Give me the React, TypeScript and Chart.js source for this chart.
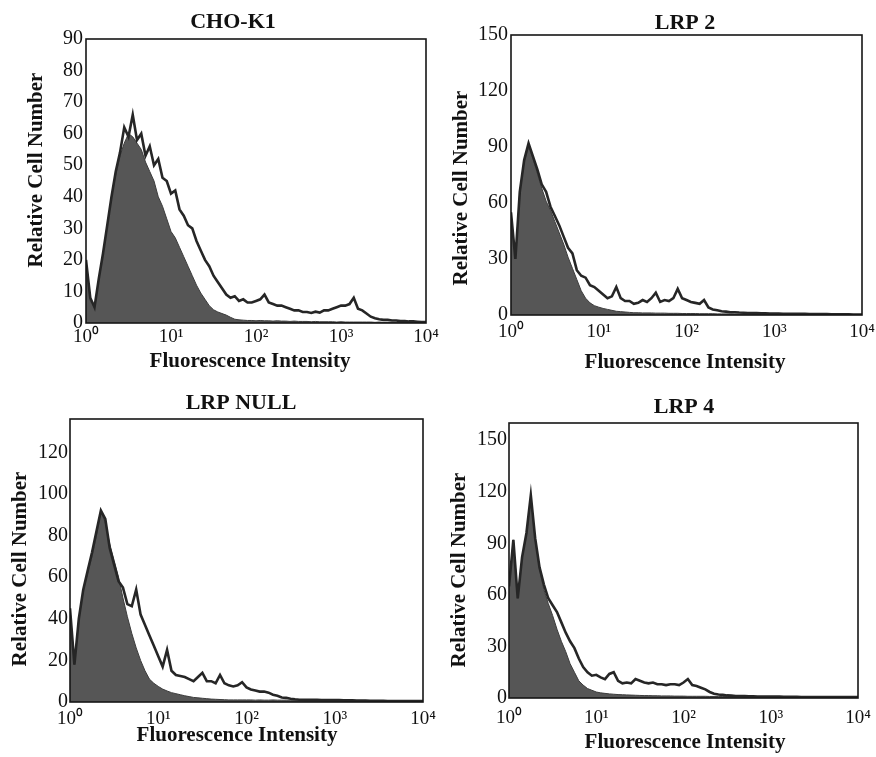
import React, { useEffect, useRef } from "react";
import { Chart, registerables } from "chart.js";

Chart.register(...registerables);

// x positions: log10 of fluorescence intensity (decades 10^0 .. 10^4)
const logIntensity = [
  0, 0.05, 0.1, 0.15, 0.2, 0.25, 0.3, 0.35, 0.4, 0.45,
  0.5, 0.55, 0.6, 0.65, 0.7, 0.75, 0.8, 0.85, 0.9, 0.95,
  1, 1.05, 1.1, 1.15, 1.2, 1.25, 1.3, 1.35, 1.4, 1.45,
  1.5, 1.55, 1.6, 1.65, 1.7, 1.75, 1.8, 1.85, 1.9, 1.95,
  2, 2.05, 2.1, 2.15, 2.2, 2.25, 2.3, 2.35, 2.4, 2.45,
  2.5, 2.55, 2.6, 2.65, 2.7, 2.75, 2.8, 2.85, 2.9, 2.95,
  3, 3.05, 3.1, 3.15, 3.2, 3.25, 3.3, 3.35, 3.4, 3.45,
  3.5, 3.55, 3.6, 3.65, 3.7, 3.75, 3.8, 3.85, 3.9, 3.95,
  4,
];

const decadeLabels = ["10\u2070", "10\u00B9", "10\u00B2", "10\u00B3", "10\u2074"];
const xAxisTitle = "Fluorescence Intensity";
const yAxisTitle = "Relative Cell Number";

// CHO-K1
const choControl = [
  20, 7, 5, 14, 22, 31, 40, 47, 53, 57,
  60, 59, 57, 55, 51, 48, 45, 40, 37, 33,
  29, 27, 24, 21, 18, 15, 12, 9.5, 7.5, 5.5,
  4.2, 3.5, 3, 2.5, 1.8, 1.2, 1, 0.9, 0.8, 0.8,
  0.7, 0.8, 0.7, 0.7, 0.6, 0.7, 0.6, 0.6, 0.5, 0.6,
  0.5, 0.5, 0.5, 0.4, 0.5, 0.4, 0.4, 0.4, 0.4, 0.3,
  0.4, 0.3, 0.3, 0.3, 0.3, 0.3, 0.3, 0.3, 0.2, 0.3,
  0.2, 0.2, 0.2, 0.2, 0.2, 0.2, 0.2, 0.2, 0.2, 0.2,
  0.2,
];
const choTest = [
  20, 8, 5, 14, 22, 31, 40, 48, 54, 62,
  59, 66, 58, 60, 53, 56, 50, 52, 46, 45,
  41, 42, 36, 34, 31, 30, 26, 23, 20, 18,
  15, 13, 11, 9, 8, 8.5, 7, 7.5, 6.5, 6.5,
  7, 7.5, 9, 6.5, 6, 5.5, 5.5, 5, 4.5, 4,
  4, 3.5, 3.5, 3.2, 3.6, 3.3, 4, 4, 4.5, 5,
  5.5, 5.5, 6, 8, 4.5, 4, 3, 2, 1.5, 1.2,
  1, 1, 0.8, 0.8, 0.6, 0.6, 0.5, 0.5, 0.4, 0.3,
  0.3,
];

// LRP 2
const lrp2Control = [
  55, 30, 66, 82, 90, 84, 76, 68, 61, 56,
  50, 44, 38, 31, 25, 19, 13, 9, 6.5, 5,
  4.2, 3.5, 3, 2.5, 2, 1.8, 1.6, 1.4, 1.2, 1.2,
  1.1, 1.1, 1.1, 1, 1, 1, 0.9, 0.9, 0.9, 0.8,
  0.8, 0.8, 0.8, 0.7, 0.7, 0.7, 0.7, 0.6, 0.6, 0.6,
  0.6, 0.5, 0.5, 0.5, 0.5, 0.5, 0.4, 0.4, 0.4, 0.4,
  0.4, 0.4, 0.4, 0.3, 0.3, 0.3, 0.3, 0.3, 0.3, 0.3,
  0.3, 0.3, 0.3, 0.3, 0.3, 0.3, 0.3, 0.3, 0.3, 0.3,
  0.3,
];
const lrp2Test = [
  55, 30, 66, 83, 92, 85, 78, 70, 66, 58,
  53, 48, 42, 36, 33, 24, 21, 20, 16, 15,
  13, 11, 9, 10, 15, 9, 7.5, 7.5, 6, 6.5,
  8, 7, 9, 12, 7, 8, 7.5, 9, 14, 9,
  8, 7, 6.5, 6, 8, 4, 3, 2.5, 2, 1.8,
  1.5, 1.5, 1.3, 1.2, 1.1, 1, 1, 0.9, 0.9, 0.8,
  0.8, 0.8, 0.7, 0.7, 0.7, 0.6, 0.6, 0.6, 0.5, 0.5,
  0.5, 0.5, 0.5, 0.4, 0.4, 0.4, 0.4, 0.4, 0.3, 0.3,
  0.3,
];

// LRP NULL
const lrpNullControl = [
  45, 18, 40, 53, 62, 70, 80, 92, 86, 76,
  68, 60, 50, 41, 33, 26, 20, 15, 11, 9,
  7.5, 6.2, 5.3, 4.5, 4, 3.5, 3, 2.6, 2.2, 2,
  1.8, 1.6, 1.4, 1.3, 1.2, 1.1, 1, 1, 1, 1,
  1, 1, 0.9, 1, 0.9, 0.9, 1, 0.9, 0.9, 0.9,
  0.9, 0.9, 0.9, 0.8, 0.9, 0.8, 0.8, 0.8, 0.8, 0.8,
  0.8, 0.7, 0.8, 0.7, 0.7, 0.7, 0.7, 0.6, 0.6, 0.6,
  0.6, 0.6, 0.5, 0.5, 0.5, 0.5, 0.5, 0.5, 0.5, 0.5,
  0.5,
];
const lrpNullTest = [
  45, 18, 40, 54, 63, 72, 82, 92, 88, 74,
  66, 58, 55, 47, 46, 54, 42, 37, 32, 27,
  22, 17, 25, 15, 13, 12.5, 12, 11, 10, 12,
  14, 10, 10, 9, 13, 9, 8, 7.5, 8, 9.5,
  7, 6, 5.5, 5, 5, 4.5, 3.5, 3, 2.2, 2,
  1.6, 1.3, 1.1, 1, 1, 1, 1, 0.9, 0.9, 0.9,
  0.9, 0.9, 0.8, 0.8, 0.8, 0.7, 0.7, 0.7, 0.6, 0.6,
  0.6, 0.6, 0.5, 0.5, 0.5, 0.5, 0.5, 0.5, 0.5, 0.5,
  0.5,
];

// LRP 4
const lrp4Control = [
  65, 92, 58, 82, 95, 116, 92, 75, 63, 55,
  48, 40, 33, 27, 20, 15, 10, 7.5, 5.5, 4.5,
  3.5, 3, 2.7, 2.4, 2.2, 2, 1.9, 1.8, 1.7, 1.6,
  1.5, 1.4, 1.4, 1.3, 1.3, 1.2, 1.2, 1.2, 1.1, 1.1,
  1.1, 1, 1, 1, 1, 1, 0.9, 0.9, 0.9, 0.9,
  0.9, 0.8, 0.8, 0.8, 0.8, 0.8, 0.7, 0.7, 0.7, 0.7,
  0.7, 0.7, 0.6, 0.6, 0.6, 0.6, 0.6, 0.6, 0.6, 0.5,
  0.5, 0.5, 0.5, 0.5, 0.5, 0.5, 0.5, 0.5, 0.5, 0.5,
  0.5,
];
const lrp4Test = [
  65, 92, 58, 82, 96, 118, 93, 76, 66, 58,
  54, 50, 44, 38, 33, 29, 23, 18, 15, 13,
  13.5, 12, 11, 14, 15, 10, 8.5, 9, 8.5, 11,
  10, 9, 8.5, 9, 8, 8, 7.5, 8, 8, 7.5,
  9, 11, 7.5, 7, 6, 5, 3.5, 2.5, 2, 1.8,
  1.5, 1.4, 1.2, 1.2, 1.1, 1, 1, 0.9, 0.9, 0.9,
  0.8, 0.8, 0.8, 0.7, 0.7, 0.7, 0.7, 0.6, 0.6, 0.6,
  0.6, 0.6, 0.5, 0.5, 0.5, 0.5, 0.5, 0.5, 0.5, 0.5,
  0.5,
];

const SERIF = '"Liberation Serif", "Times New Roman", Times, serif';

type Spec = {
  title: string;
  control: number[];
  test: number[];
  yMax: number;
  yStep: number;
  left: number;
  top: number;
  width: number;
  height: number;
  area: { left: number; top: number; right: number; bottom: number };
  titleX: number;
  titleY: number;
  yTitleX: number;
  yTitleY: number;
  xTitleX: number;
  xTitleY: number;
  yTickPad: number;
  xTickPad: number;
};

const panels: Spec[] = [
  {
    title: "CHO-K1", control: choControl, test: choTest, yMax: 90, yStep: 10,
    left: 0, top: 0, width: 440, height: 380,
    area: { left: 86, top: 39, right: 426, bottom: 323 },
    titleX: 233, titleY: 22, yTitleX: 37, yTitleY: 170, xTitleX: 250, xTitleY: 362,
    yTickPad: 3, xTickPad: 2.6,
  },
  {
    title: "LRP 2", control: lrp2Control, test: lrp2Test, yMax: 150, yStep: 30,
    left: 440, top: 0, width: 436, height: 380,
    area: { left: 71, top: 35, right: 422, bottom: 315 },
    titleX: 245, titleY: 23, yTitleX: 22, yTitleY: 188, xTitleX: 245, xTitleY: 363,
    yTickPad: 3, xTickPad: 5.6,
  },
  {
    title: "LRP NULL", control: lrpNullControl, test: lrpNullTest, yMax: 136, yStep: 20,
    left: 0, top: 380, width: 440, height: 377,
    area: { left: 70, top: 39, right: 423, bottom: 322 },
    titleX: 241, titleY: 23, yTitleX: 21, yTitleY: 189, xTitleX: 237, xTitleY: 356,
    yTickPad: 2, xTickPad: 5.5,
  },
  {
    title: "LRP 4", control: lrp4Control, test: lrp4Test, yMax: 160, yStep: 30,
    left: 440, top: 380, width: 436, height: 377,
    area: { left: 69, top: 43, right: 418, bottom: 318 },
    titleX: 244, titleY: 27, yTitleX: 20, yTitleY: 190, xTitleX: 245, xTitleY: 363,
    yTickPad: 2, xTickPad: 8.6,
  },
];

function Panel({ spec }: { spec: Spec }) {
  const ref = useRef<HTMLCanvasElement | null>(null);

  useEffect(() => {
    const canvas = ref.current;
    if (!canvas) return;
    const a = spec.area;

    const framePlugin = {
      id: "frameAndTitles",
      afterDraw(chart: any) {
        const { ctx, chartArea } = chart;
        ctx.save();
        ctx.strokeStyle = "#161616";
        ctx.lineWidth = 1.6;
        ctx.strokeRect(
          chartArea.left,
          chartArea.top,
          chartArea.right - chartArea.left,
          chartArea.bottom - chartArea.top
        );
        ctx.fillStyle = "#111";
        ctx.textAlign = "center";
        ctx.textBaseline = "middle";
        ctx.font = `bold 22px ${SERIF}`;
        ctx.fillText(spec.title, spec.titleX, spec.titleY);
        ctx.font = `bold 21px ${SERIF}`;
        ctx.fillText(xAxisTitle, spec.xTitleX, spec.xTitleY);
        ctx.translate(spec.yTitleX, spec.yTitleY);
        ctx.rotate(-Math.PI / 2);
        ctx.fillText(yAxisTitle, 0, 0);
        ctx.restore();
      },
    };

    const toPoints = (arr: number[]) => logIntensity.map((x, i) => ({ x, y: arr[i] }));

    const chart = new Chart(canvas, {
      type: "line",
      data: {
        datasets: [
          {
            label: "test",
            data: toPoints(spec.test),
            borderColor: "#262626",
            borderWidth: 2.6,
            fill: false,
            pointRadius: 0,
            tension: 0,
          },
          {
            label: "control",
            data: toPoints(spec.control),
            borderColor: "#3c3c3c",
            backgroundColor: "#565656",
            borderWidth: 1,
            fill: "origin",
            pointRadius: 0,
            tension: 0,
          },
        ],
      },
      options: {
        animation: false,
        responsive: false,
        maintainAspectRatio: false,
        devicePixelRatio: 1,
        layout: {
          padding: { top: a.top, right: spec.width - a.right, bottom: 0, left: 0 },
        },
        plugins: {
          legend: { display: false },
          tooltip: { enabled: false },
          title: { display: false },
        },
        scales: {
          x: {
            type: "linear",
            min: 0,
            max: 4,
            grid: { display: false, drawTicks: false },
            border: { display: false },
            ticks: {
              stepSize: 1,
              autoSkip: false,
              maxRotation: 0,
              padding: spec.xTickPad,
              color: "#111",
              font: { family: SERIF, size: 19 },
              callback: (v: any) => decadeLabels[Math.round(Number(v))] ?? "",
            },
            title: { display: false },
            afterFit: (s: any) => {
              s.height = spec.height - a.bottom;
              s.paddingLeft = 0;
              s.paddingRight = 0;
            },
          },
          y: {
            type: "linear",
            min: 0,
            max: spec.yMax,
            grid: { display: false, drawTicks: false },
            border: { display: false },
            ticks: {
              stepSize: spec.yStep,
              includeBounds: false,
              padding: spec.yTickPad,
              color: "#111",
              font: { family: SERIF, size: 20 },
            },
            title: { display: false },
            afterFit: (s: any) => {
              s.width = a.left;
              s.paddingTop = 0;
              s.paddingBottom = 0;
            },
          },
        },
      } as any,
      plugins: [framePlugin],
    });

    return () => chart.destroy();
  }, [spec]);

  return (
    <canvas
      ref={ref}
      width={spec.width}
      height={spec.height}
      style={{
        position: "absolute",
        left: spec.left,
        top: spec.top,
        width: spec.width,
        height: spec.height,
      }}
    />
  );
}

export default function App() {
  return (
    <div
      style={{
        position: "absolute",
        left: 0,
        top: 0,
        width: 876,
        height: 757,
        background: "#fff",
        overflow: "hidden",
      }}
    >
      {panels.map((p) => (
        <Panel key={p.title} spec={p} />
      ))}
    </div>
  );
}
